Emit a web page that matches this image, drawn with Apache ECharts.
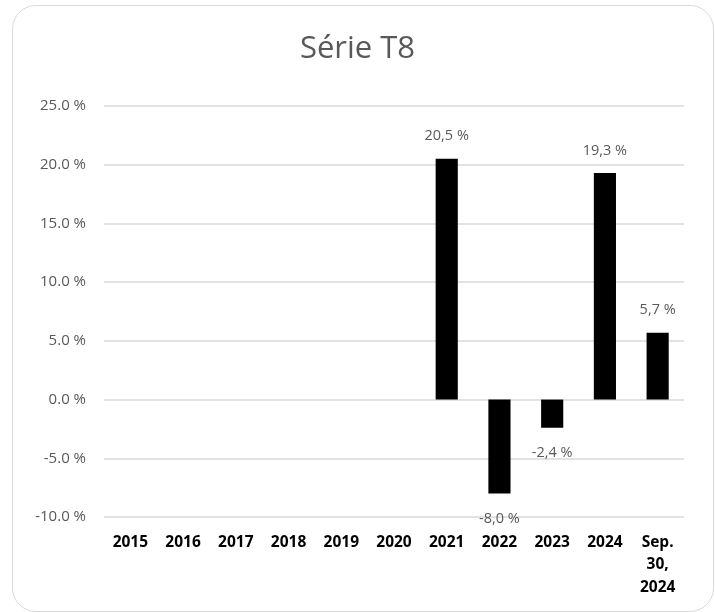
<!DOCTYPE html>
<html>
<head>
<meta charset="utf-8">
<script src="https://cdn.jsdelivr.net/npm/echarts@6/dist/echarts.min.js"></script>
<style>
  html, body { margin: 0; padding: 0; background: #fff; }
  #frame {
    position: absolute; left: 12px; top: 5px; width: 702px; height: 607px;
    border: 1.5px solid #d9d9d9; border-radius: 24px; box-sizing: border-box;
  }
  #chart { position: absolute; left: 0; top: 0; width: 715px; height: 612px; }
</style>
</head>
<body>
<div id="frame"></div>
<div id="chart"></div>
<script>
// Série T8 - variation annuelle
const categories = ["2015", "2016", "2017", "2018", "2019", "2020", "2021", "2022", "2023", "2024", "Sep.\n30,\n2024"]
const values = [null, null, null, null, null, null, 20.5, -8.0, -2.4, 19.3, 5.7]
const yTicks = [-10, -5, 0, 5, 10, 15, 20, 25]

const chart = echarts.init(document.getElementById("chart"))

// negative bars get their label under the bar end
const seriesData = values.map(v => {
  const neg = v !== null && v < 0
  return {
    value: v,
    label: { position: neg ? "bottom" : "top", distance: neg ? 18 : 15 }
  }
})

chart.setOption({
  animation: false,
  title: {
    text: "Série T8",
    left: "center",
    top: 29,
    textStyle: {
      fontFamily: "Open Sans",
      fontSize: 31,
      fontWeight: "normal",
      color: "#595959"
    }
  },
  grid: {
    left: 104,
    right: 31,
    top: 106,
    bottom: 95
  },
  xAxis: {
    type: "category",
    data: categories,
    axisLine: { show: false },
    axisTick: { show: false },
    axisLabel: {
      margin: 14,
      fontFamily: "Open Sans",
      fontSize: 15.5,
      fontWeight: "bold",
      color: "#000",
      lineHeight: 22.5,
      verticalAlign: "top"
    }
  },
  yAxis: {
    type: "value",
    min: yTicks[0],
    max: yTicks[yTicks.length - 1],
    interval: 5,
    axisLine: { show: false },
    axisTick: { show: false },
    splitLine: { lineStyle: { color: "#d9d9d9", width: 1.5 } },
    axisLabel: {
      margin: 18,
      fontFamily: "Open Sans",
      fontSize: 15,
      color: "#595959",
      formatter: v => v.toFixed(1) + " %"
    }
  },
  series: [
    {
      type: "bar",
      data: seriesData,
      barWidth: "42%",
      itemStyle: { color: "#000" },
      label: {
        show: true,
        fontFamily: "Open Sans",
        fontSize: 14.5,
        color: "#595959",
        formatter: p => p.value.toFixed(1).replace(".", ",") + " %"
      }
    }
  ]
})
</script>
</body>
</html>
